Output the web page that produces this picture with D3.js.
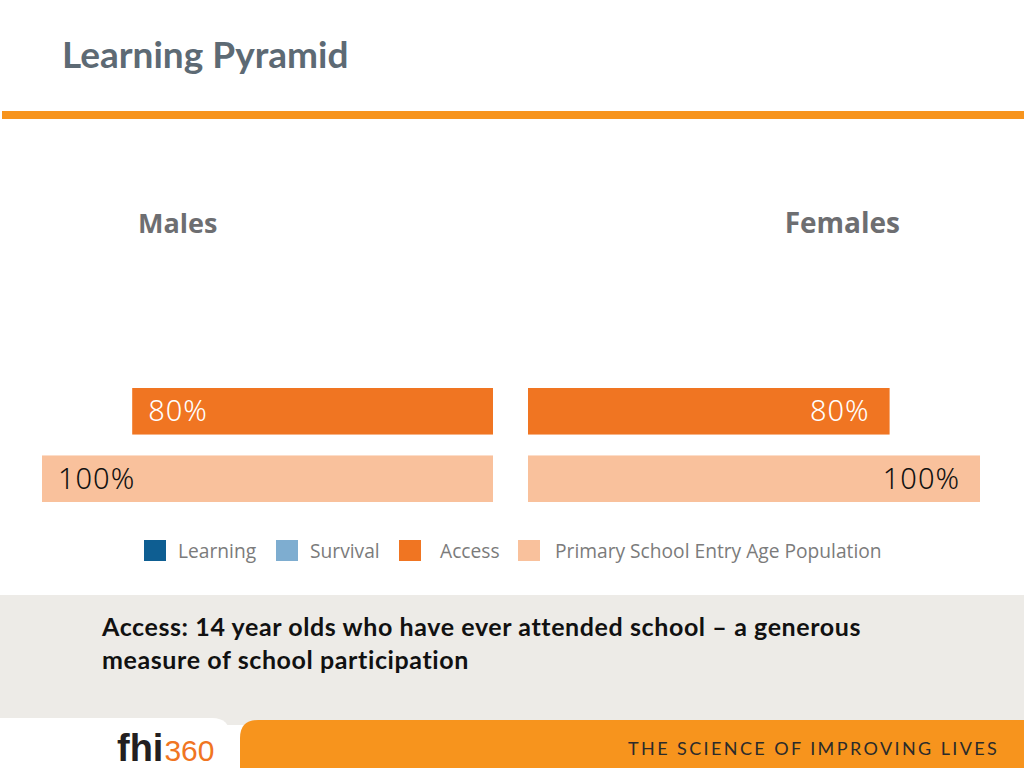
<!DOCTYPE html>
<html><head><meta charset="utf-8">
<script src="https://cdn.jsdelivr.net/npm/d3@7"></script>
<style>html,body{margin:0;padding:0;background:#fff;}svg{display:block;}</style>
</head><body>
<script>
const categories = ["Learning", "Survival", "Access", "Primary School Entry Age Population"];
const legendColors = ["#0e5e92", "#7eadd0", "#f07522", "#f9c19c"];
const barRows = ["Access", "Primary School Entry Age Population"];
const malesValues = [80, 100];
const femalesValues = [80, 100];
const barLabels = ["80%", "100%"];

const W = 1024, H = 768;
const svg = d3.select("body").append("svg").attr("width", W).attr("height", H);

// background bands
svg.append("rect").attr("x", 0).attr("y", 595).attr("width", W).attr("height", 130).attr("fill", "#edebe7");
svg.append("rect").attr("x", 2).attr("y", 111).attr("width", W - 2).attr("height", 8).attr("fill", "#f7941d");

// Title
svg.append("text").attr("x", 62).attr("y", 68).text("Learning Pyramid")
  .attr("font-family", "Lato").attr("font-weight", 700).attr("font-size", 37).attr("fill", "#5d6a74");

// Side labels
svg.append("text").attr("x", 138).attr("y", 233).text("Males")
  .attr("font-family", "Open Sans").attr("font-weight", 700).attr("font-size", 27).attr("fill", "#6d6e71");
svg.append("text").attr("x", 900).attr("y", 233).attr("text-anchor", "end").text("Females")
  .attr("font-family", "Open Sans").attr("font-weight", 700).attr("font-size", 28).attr("fill", "#6d6e71");

// Scales
const y = d3.scaleBand().domain(barRows).range([388, 502]).paddingInner(0.31);
const xM = d3.scaleLinear().domain([0, 100]).range([493, 42]);
const xF = d3.scaleLinear().domain([0, 100]).range([528, 980]);
const color = d3.scaleOrdinal().domain(categories).range(legendColors);

const rows = barRows.map((r, i) => ({row: r, m: malesValues[i], f: femalesValues[i], label: barLabels[i]}));

// Males bars
svg.append("g").selectAll("rect").data(rows).join("rect")
  .attr("x", d => xM(d.m)).attr("y", d => y(d.row))
  .attr("width", d => xM(0) - xM(d.m)).attr("height", y.bandwidth())
  .attr("fill", d => color(d.row));
svg.append("g").selectAll("text").data(rows).join("text")
  .attr("x", d => xM(d.m) + 16).attr("y", d => y(d.row) + y.bandwidth() / 2 + 10)
  .text(d => d.label)
  .attr("font-family", "Noto Sans").attr("font-weight", 300).attr("font-size", 29).attr("letter-spacing", 1)
  .attr("fill", d => d.row === "Access" ? "#ffffff" : "#111111");

// Females bars
svg.append("g").selectAll("rect").data(rows).join("rect")
  .attr("x", xF(0)).attr("y", d => y(d.row))
  .attr("width", d => xF(d.f) - xF(0)).attr("height", y.bandwidth())
  .attr("fill", d => color(d.row));
svg.append("g").selectAll("text").data(rows).join("text")
  .attr("x", d => xF(d.f) - 20).attr("y", d => y(d.row) + y.bandwidth() / 2 + 10)
  .attr("text-anchor", "end")
  .text(d => d.label)
  .attr("font-family", "Noto Sans").attr("font-weight", 300).attr("font-size", 29).attr("letter-spacing", 1)
  .attr("fill", d => d.row === "Access" ? "#ffffff" : "#111111");

// Legend
const legendX = [144, 276, 399, 518];
const legendTextDx = [34, 34, 41, 37];
const lg = svg.append("g").selectAll("g").data(categories).join("g")
  .attr("transform", (d, i) => `translate(${legendX[i]},540)`);
lg.append("rect").attr("width", 22).attr("height", 21).attr("fill", d => color(d));
lg.append("text").attr("x", (d, i) => legendTextDx[i]).attr("y", 18).text(d => d)
  .attr("font-family", "Open Sans").attr("font-size", 19.2).attr("fill", "#7b7b7b");

// Caption
const cap = svg.append("text").attr("font-family", "Lato").attr("font-weight", 700)
  .attr("font-size", 25).attr("letter-spacing", 0.6).attr("fill", "#111");
cap.append("tspan").attr("x", 102).attr("y", 636).text("Access: 14 year olds who have ever attended school \u2013 a generous");
cap.append("tspan").attr("x", 102).attr("y", 669).text("measure of school participation");

// Footer
svg.append("path").attr("d", `M240,768 L240,738 Q240,720 258,720 L${W},720 L${W},768 Z`).attr("fill", "#f7941d");
svg.append("path").attr("d", `M0,768 L0,718 L212,718 Q230,718 230,736 L230,768 Z`).attr("fill", "#ffffff");
svg.append("text").attr("x", 628).attr("y", 755).text("THE SCIENCE OF IMPROVING LIVES")
  .attr("font-family", "Lato").attr("font-size", 18).attr("letter-spacing", 2.4).attr("fill", "#2b2b2b");
const logo = svg.append("text").attr("x", 117).attr("y", 761).attr("font-family", "Liberation Sans Narrow, Liberation Sans");
logo.append("tspan").text("fhi").attr("font-weight", 700).attr("font-size", 38).attr("fill", "#231f20");
logo.append("tspan").text("360").attr("font-size", 30).attr("fill", "#f07522").attr("dx", 1);
</script>
</body></html>
